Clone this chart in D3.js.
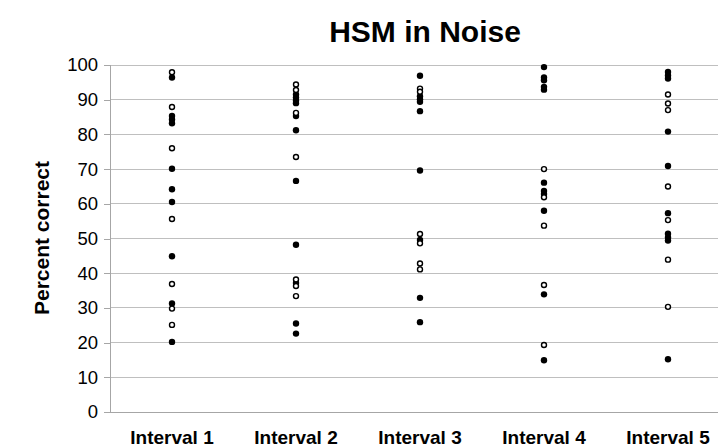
<!DOCTYPE html>
<html>
<head>
<meta charset="utf-8">
<script src="https://cdn.jsdelivr.net/npm/d3@7"></script>
<style>
  html, body { margin: 0; padding: 0; background: #fff; }
  svg { display: block; font-family: "Liberation Sans", Arial, sans-serif; }
</style>
</head>
<body>
<svg id="chart" width="718" height="448"></svg>
<script>
const categories = ["Interval 1", "Interval 2", "Interval 3", "Interval 4", "Interval 5"];
const yTicks = [0, 10, 20, 30, 40, 50, 60, 70, 80, 90, 100];

// filled-marker series, one list per interval
const filledValues = [
  [96.4, 85.3, 84.3, 83.2, 70.1, 64.2, 60.5, 44.9, 31.3, 20.2],
  [91.5, 90.6, 89.8, 89.0, 85.3, 81.2, 66.6, 48.2, 37.2, 25.5, 22.6],
  [96.9, 91.0, 90.1, 89.4, 86.7, 69.6, 49.6, 32.9, 25.9],
  [99.4, 96.4, 95.6, 93.7, 92.9, 66.1, 63.7, 62.8, 58.0, 33.9, 14.9],
  [98.0, 97.0, 96.1, 80.8, 70.9, 57.3, 51.4, 50.3, 49.4, 15.2]
];
// open-marker series, one list per interval
const openValues = [
  [97.9, 87.9, 76.0, 55.6, 36.9, 29.8, 25.1],
  [94.4, 92.8, 86.2, 73.5, 38.2, 36.3, 33.4],
  [93.2, 92.3, 51.3, 48.6, 42.8, 41.1],
  [70.0, 61.9, 53.7, 36.6, 19.3],
  [91.5, 88.9, 87.0, 65.0, 55.3, 43.9, 30.3]
];

const svg = d3.select("#chart");
const margin = { left: 110, top: 65, bottom: 412, right: 730 };

const x = d3.scaleBand().domain(categories).range([margin.left, margin.right]).padding(0);
const y = d3.scaleLinear().domain([0, 100]).range([margin.bottom, margin.top]);

// gridlines
svg.append("g").selectAll("line").data(yTicks.filter(d => d > 0)).join("line")
  .attr("x1", margin.left).attr("x2", 718)
  .attr("y1", d => y(d)).attr("y2", d => y(d))
  .attr("stroke", "#bfbfbf").attr("stroke-width", 1).attr("shape-rendering", "crispEdges");

// y axis
const yAxis = d3.axisLeft(y).tickValues(yTicks).tickSize(6).tickPadding(6).tickFormat(d3.format("d"));
const gy = svg.append("g").attr("transform", `translate(${margin.left},0)`).call(yAxis);
gy.select(".domain").attr("stroke", "#a6a6a6").attr("shape-rendering", "crispEdges");
gy.selectAll(".tick line").attr("stroke", "#a6a6a6").attr("shape-rendering", "crispEdges");
gy.selectAll(".tick text").attr("font-size", 18.5).attr("fill", "#000")
  .attr("font-family", "Liberation Sans, Arial, sans-serif");

// x axis
const xAxis = d3.axisBottom(x).tickSize(0).tickPadding(19);
const gx = svg.append("g").attr("transform", `translate(0,${margin.bottom})`).call(xAxis);
gx.select(".domain").attr("stroke", "#a6a6a6").attr("shape-rendering", "crispEdges");
gx.selectAll(".tick text").attr("font-size", 19).attr("font-weight", "bold").attr("fill", "#000")
  .attr("font-family", "Liberation Sans, Arial, sans-serif");

// points
const filledPts = [], openPts = [];
categories.forEach((c, i) => {
  filledValues[i].forEach(v => filledPts.push({ c, v }));
  openValues[i].forEach(v => openPts.push({ c, v }));
});
const cx = d => x(d.c) + x.bandwidth() / 2;

svg.append("g").selectAll("circle").data(filledPts).join("circle")
  .attr("cx", cx).attr("cy", d => y(d.v)).attr("r", 3.2)
  .attr("fill", "#000").attr("stroke", "none");

svg.append("g").selectAll("circle").data(openPts).join("circle")
  .attr("cx", cx).attr("cy", d => y(d.v)).attr("r", 2.5)
  .attr("fill", "#fff").attr("stroke", "#000").attr("stroke-width", 1.4);

// titles
svg.append("text").attr("x", 425).attr("y", 42).attr("text-anchor", "middle")
  .attr("font-size", 30).attr("font-weight", "bold").text("HSM in Noise");

svg.append("text").attr("transform", "translate(49,238) rotate(-90)").attr("text-anchor", "middle")
  .attr("font-size", 21).attr("font-weight", "bold").text("Percent correct");
</script>
</body>
</html>
